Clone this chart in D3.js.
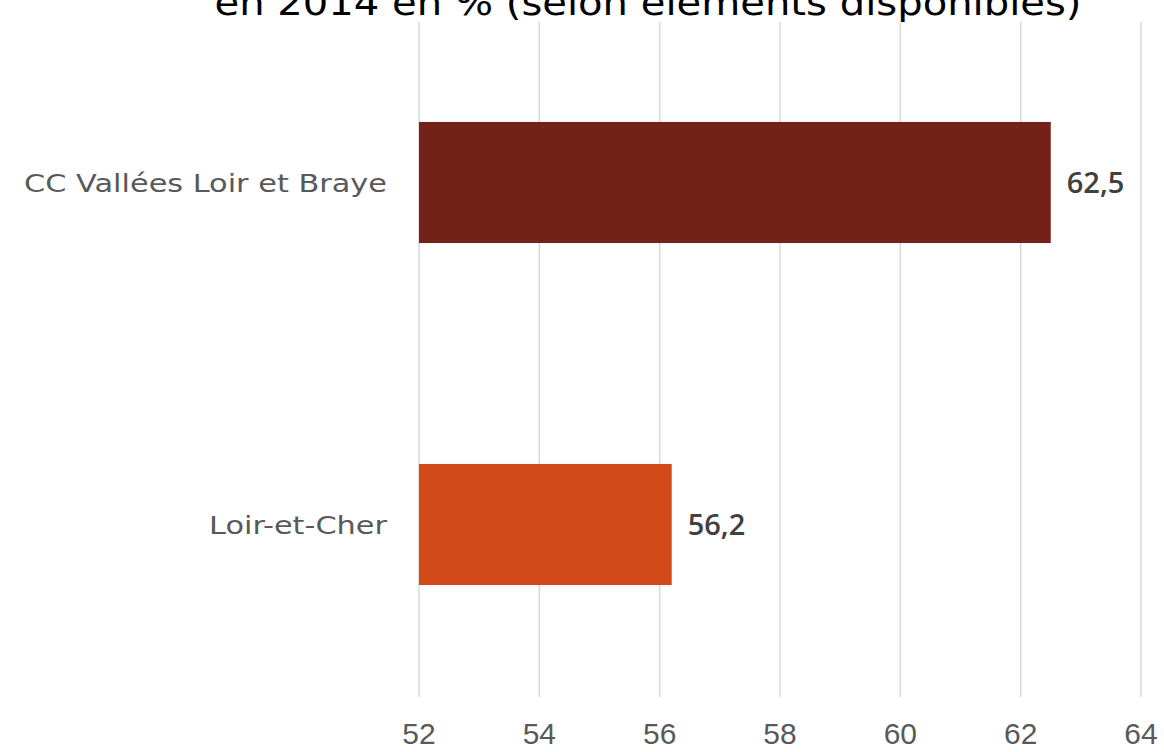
<!DOCTYPE html>
<meta charset="utf-8">
<head>
<style>
  body { margin: 0; background: #fff; }
  svg { font-family: 'DejaVu Sans', sans-serif; }
  .grid line { stroke: #d9d9d9; stroke-width: 1.5px; }
  .cat { fill: #595959; font-size: 25.5px; }
  .tick-label { fill: #595959; font-size: 30px; font-family: 'Liberation Sans', sans-serif; }
  .val { fill: #404040; font-size: 29px; font-weight: 600; font-family: 'Open Sans', sans-serif; }
  .title { fill: #000; font-size: 35px; }
</style>
</head>
<body>
<svg width="1164" height="752"></svg>
<script src="https://d3js.org/d3.v7.min.js"></script>
<script>
// data
var categories = ["CC Vallées Loir et Braye", "Loir-et-Cher"];
var values = [62.5, 56.2];
var barColors = ["#74211a", "#d24a19"];
var ticks = [52, 54, 56, 58, 60, 62, 64];
var titleLine = "en 2014 en % (selon éléments disponibles)";

var svg = d3.select("svg"),
    width = +svg.attr("width"),
    height = +svg.attr("height");

var x = d3.scaleLinear().domain([52, 64]).range([419, 1141]);
var y = d3.scaleBand().domain(categories).range([11.5, 695.5]).paddingInner(0.646).paddingOuter(0.323);

// title (its first line sits above the visible area)
svg.append("text")
  .attr("class", "title")
  .attr("x", 648)
  .attr("y", 15)
  .attr("text-anchor", "middle")
  .attr("textLength", 867)
  .attr("lengthAdjust", "spacingAndGlyphs")
  .text(titleLine);

// gridlines
svg.append("g").attr("class", "grid")
  .selectAll("line")
  .data(ticks)
  .enter().append("line")
    .attr("x1", d => x(d)).attr("x2", d => x(d))
    .attr("y1", 22).attr("y2", 697);

// bars
svg.selectAll(".bar")
  .data(categories)
  .enter().append("rect")
    .attr("class", "bar")
    .attr("x", x(52))
    .attr("y", d => y(d))
    .attr("width", (d, i) => x(values[i]) - x(52))
    .attr("height", y.bandwidth())
    .attr("fill", (d, i) => barColors[i]);

// value labels
svg.selectAll(".val")
  .data(categories)
  .enter().append("text")
    .attr("class", "val")
    .attr("x", (d, i) => x(values[i]) + 16)
    .attr("y", d => y(d) + y.bandwidth() / 2)
    .attr("dy", ".36em")
    .text((d, i) => d3.format(".1f")(values[i]).replace(".", ","));

// category labels, widened a bit since the original font is wider
svg.selectAll(".cat")
  .data(categories)
  .enter().append("text")
    .attr("class", "cat")
    .attr("x", 387)
    .attr("y", d => y(d) + y.bandwidth() / 2)
    .attr("dy", ".36em")
    .attr("text-anchor", "end")
    .text(d => d)
    .each(function() {
      var w = this.getComputedTextLength();
      d3.select(this).attr("textLength", w * 1.19).attr("lengthAdjust", "spacingAndGlyphs");
    });

// x tick labels
svg.selectAll(".tick-label")
  .data(ticks)
  .enter().append("text")
    .attr("class", "tick-label")
    .attr("x", d => x(d))
    .attr("y", 744)
    .attr("text-anchor", "middle")
    .text(d => d);
</script>
</body>
